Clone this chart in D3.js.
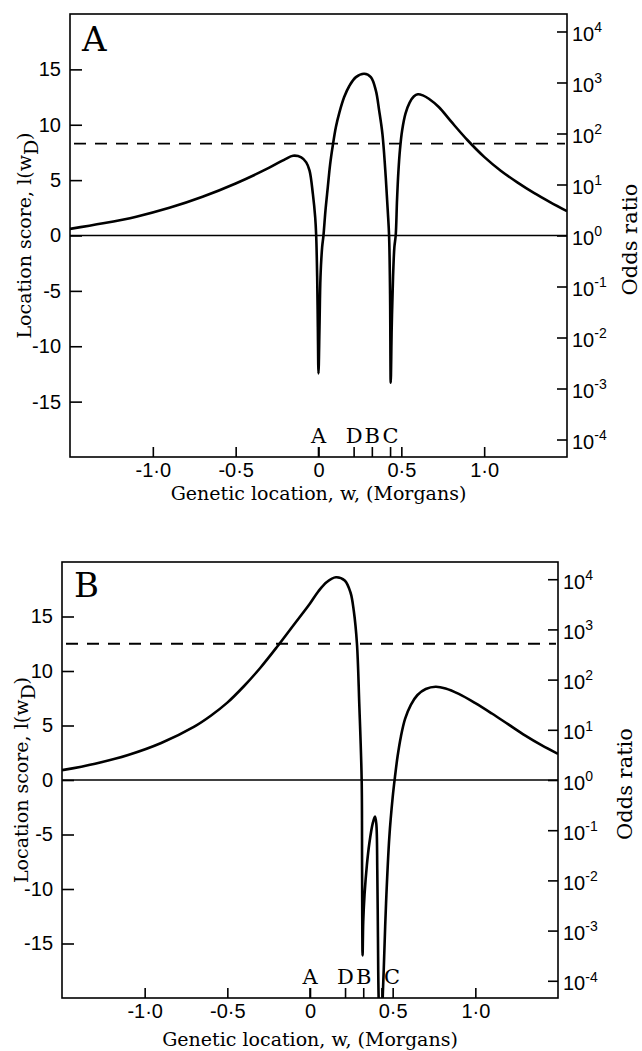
<!DOCTYPE html>
<html>
<head>
<meta charset="utf-8">
<script src="https://cdn.jsdelivr.net/npm/d3@7"></script>
<style>
  body { margin: 0; background: #fff; }
  svg { display: block; }
</style>
</head>
<body>
<svg id="chart" width="642" height="1051"></svg>
<script>
// ---- data ----
var xTicks = [-1, -0.5, 0, 0.5, 1]
var xTickLabels = ["-1·0", "-0·5", "0", "0·5", "1·0"]
var scoreTicks = [-15, -10, -5, 0, 5, 10, 15]
var oddsExponents = [-4, -3, -2, -1, 0, 1, 2, 3, 4]
var markerNames = ["A", "D", "B", "C"]
var markerLocs = [0, 0.215, 0.325, 0.435]

var thresholdA = 8.3
var thresholdB = 12.5

var locA = [-1.5, -1.3, -1.1, -0.9, -0.7, -0.5, -0.3, -0.2, -0.154, -0.104,
  -0.074, -0.054, -0.034, -0.02, -0.014, -0.008, -0.004, 0, 0.006, 0.012,
  0.022, 0.03, 0.042, 0.056, 0.07, 0.086, 0.105, 0.126, 0.155, 0.186,
  0.226, 0.276, 0.316, 0.346, 0.366, 0.386, 0.406, 0.418, 0.426, 0.432,
  0.436, 0.442, 0.45, 0.458, 0.466, 0.474, 0.482, 0.492, 0.505, 0.525,
  0.55, 0.575, 0.6, 0.63, 0.666, 0.726, 0.8, 0.9, 1.0, 1.1,
  1.2, 1.3, 1.4, 1.5]
var scoreA = [0.6, 1.1, 1.7, 2.5, 3.5, 4.7, 6.1, 6.9, 7.2, 7.06,
  6.6, 5.86, 3.75, 1.65, 0, -3.75, -8.26, -12.46, -8.26, -3.75,
  -1.05, 0, 2.25, 4.35, 6.4, 8.1, 9.8, 11.1, 12.5, 13.5,
  14.3, 14.6, 14.3, 13.1, 11.3, 9.16, 5.25, 2.25, 0, -5.25,
  -13.3, -8.26, -3.75, -1.05, 0, 3.2, 5.7, 7.8, 9.5, 11.0,
  12.0, 12.55, 12.75, 12.65, 12.35, 11.6, 10.3, 8.6, 7.1, 5.85,
  4.8, 3.85, 3.0, 2.2]

var locB = [-1.5, -1.3, -1.1, -0.9, -0.7, -0.6, -0.5, -0.4, -0.3, -0.2,
  -0.1, 0.0, 0.05, 0.1, 0.157, 0.21, 0.245, 0.265, 0.284, 0.298,
  0.3125, 0.315, 0.318, 0.322, 0.33, 0.344, 0.359, 0.379, 0.393, 0.401,
  0.407, 0.411, 0.415, 0.425, 0.435, 0.44, 0.446, 0.46, 0.48, 0.5,
  0.514, 0.53, 0.55, 0.575, 0.61, 0.65, 0.7, 0.76, 0.82, 0.9,
  1.0, 1.1, 1.2, 1.3, 1.4, 1.5]
var scoreB = [0.9, 1.5, 2.3, 3.4, 4.9, 5.9, 7.1, 8.6, 10.3, 12.2,
  14.2, 16.2, 17.3, 18.15, 18.6, 18.3, 17.2, 15.5, 12.5, 7.0,
  0, -8.3, -16.1, -13, -10.5, -7.8, -5.8, -4.0, -3.36, -4.0,
  -8.3, -14.4, -19.9, -24, -24, -19.9, -17.4, -11.3, -5.2, -1.6,
  0.3, 2.2, 4.0, 5.6, 6.9, 7.8, 8.35, 8.56, 8.4, 7.9,
  7.05, 6.1, 5.1, 4.1, 3.2, 2.4]

// ---- layout ----
var serif = "'DejaVu Serif', serif"
var sans = "'Liberation Sans', Arial, sans-serif"

var panels = [
  {name: "A", loc: locA, score: scoreA, threshold: thresholdA,
   left: 70, right: 567, top: 14, bottom: 457,
   labelY: 51, yTitleX: 31, oddsTitleX: 637, xTitleY: 500, cShift: 0},
  {name: "B", loc: locB, score: scoreB, threshold: thresholdB,
   left: 62, right: 558, top: 562, bottom: 998,
   labelY: 597, yTitleX: 28, oddsTitleX: 632, xTitleY: 1046, cShift: 10}
]

var svg = d3.select("#chart")

function drawPanel(p, idx) {
  var g = svg.append("g").attr("class", "panel-" + p.name)

  var x = d3.scaleLinear().domain([-1.5, 1.5]).range([p.left, p.right])
  var y = d3.scaleLinear().domain([-20, 20]).range([p.bottom, p.top])

  g.append("clipPath").attr("id", "clip" + idx)
    .append("rect")
      .attr("x", p.left).attr("y", p.top)
      .attr("width", p.right - p.left).attr("height", p.bottom - p.top)

  // zero line
  g.append("line")
    .attr("x1", p.left).attr("x2", p.right)
    .attr("y1", y(0)).attr("y2", y(0))
    .attr("stroke", "#000").attr("stroke-width", 1.3)

  // threshold
  g.append("line")
    .attr("x1", p.left + 4).attr("x2", p.right - 2)
    .attr("y1", y(p.threshold)).attr("y2", y(p.threshold))
    .attr("stroke", "#000").attr("stroke-width", 1.8)
    .attr("stroke-dasharray", "12,9")

  // curve
  var pts = p.loc.map(function(d, i) { return [d, p.score[i]] })
  var line = d3.line()
    .x(function(d) { return x(d[0]) })
    .y(function(d) { return y(d[1]) })
    .curve(d3.curveCatmullRom.alpha(0.5))
  g.append("path")
    .attr("clip-path", "url(#clip" + idx + ")")
    .attr("d", line(pts))
    .attr("fill", "none")
    .attr("stroke", "#000")
    .attr("stroke-width", 2.6)
    .attr("stroke-linejoin", "round")

  // frame
  g.append("rect")
    .attr("x", p.left).attr("y", p.top)
    .attr("width", p.right - p.left).attr("height", p.bottom - p.top)
    .attr("fill", "none").attr("stroke", "#000").attr("stroke-width", 1.6)

  // left axis, ticks inside
  var leftAxis = g.append("g")
    .attr("transform", "translate(" + p.left + ",0)")
    .call(d3.axisLeft(y).tickValues(scoreTicks).tickSize(-12).tickPadding(9)
      .tickFormat(function(d) { return d < 0 ? "-" + Math.abs(d) : d }))
  leftAxis.select(".domain").remove()
  leftAxis.attr("font-family", sans).attr("font-size", 20)
  leftAxis.selectAll("line").attr("stroke-width", 1.6)

  // right axis, odds ratio on log scale (score = 2 ln odds)
  var rightAxis = g.append("g")
    .attr("transform", "translate(" + p.right + ",0)")
    .call(d3.axisRight(y)
      .tickValues(oddsExponents.map(function(k) { return 2 * Math.LN10 * k }))
      .tickSize(-10).tickPadding(5).tickFormat(""))
  rightAxis.select(".domain").remove()
  rightAxis.attr("font-family", sans).attr("font-size", 20)
  rightAxis.selectAll("line").attr("stroke-width", 1.6)
  rightAxis.selectAll(".tick text").each(function(d, i) {
    var t = d3.select(this).attr("dy", "0.45em")
    t.append("tspan").text("10")
    t.append("tspan").attr("dy", "-0.62em").attr("font-size", 14)
      .text(oddsExponents[i])
  })

  // bottom axis, ticks inside
  var bottomAxis = g.append("g")
    .attr("transform", "translate(0," + p.bottom + ")")
    .call(d3.axisBottom(x).tickValues(xTicks).tickSize(-10).tickPadding(6)
      .tickFormat(function(d, i) { return xTickLabels[i] }))
  bottomAxis.select(".domain").remove()
  bottomAxis.attr("font-family", sans).attr("font-size", 20)
  bottomAxis.selectAll("line").attr("stroke-width", 1.6)

  // marker loci
  var markers = g.append("g").attr("class", "markers")
  markers.selectAll("line")
    .data(markerLocs)
    .enter().append("line")
      .attr("x1", function(d) { return x(d) }).attr("x2", function(d) { return x(d) })
      .attr("y1", p.bottom).attr("y2", p.bottom - 10)
      .attr("stroke", "#000").attr("stroke-width", 1.6)
  markers.selectAll("text")
    .data(markerNames)
    .enter().append("text")
      .attr("x", function(d, i) { return x(markerLocs[i]) + (d == "C" ? p.cShift : 0) })
      .attr("y", p.bottom - 14)
      .attr("text-anchor", "middle")
      .attr("font-family", serif)
      .attr("font-size", 21)
      .text(function(d) { return d })

  // panel letter
  g.append("text")
    .attr("x", p.left + 12).attr("y", p.labelY)
    .attr("font-family", serif).attr("font-size", 34)
    .text(p.name)

  // axis titles
  var yt = g.append("text")
    .attr("transform", "translate(" + p.yTitleX + "," + y(0) + ") rotate(-90)")
    .attr("text-anchor", "middle")
    .attr("font-family", serif).attr("font-size", 19)
  yt.append("tspan").text("Location score, l(w")
  yt.append("tspan").attr("dy", "0.35em").text("D")
  yt.append("tspan").attr("dy", "-0.35em").text(")")

  g.append("text")
    .attr("transform", "translate(" + p.oddsTitleX + "," + (y(0) + 4) + ") rotate(-90)")
    .attr("text-anchor", "middle")
    .attr("font-family", serif).attr("font-size", 21)
    .text("Odds ratio")

  g.append("text")
    .attr("x", x(0)).attr("y", p.xTitleY)
    .attr("text-anchor", "middle")
    .attr("font-family", serif).attr("font-size", 19)
    .text("Genetic location, w, (Morgans)")
}

panels.forEach(drawPanel)
</script>
</body>
</html>
